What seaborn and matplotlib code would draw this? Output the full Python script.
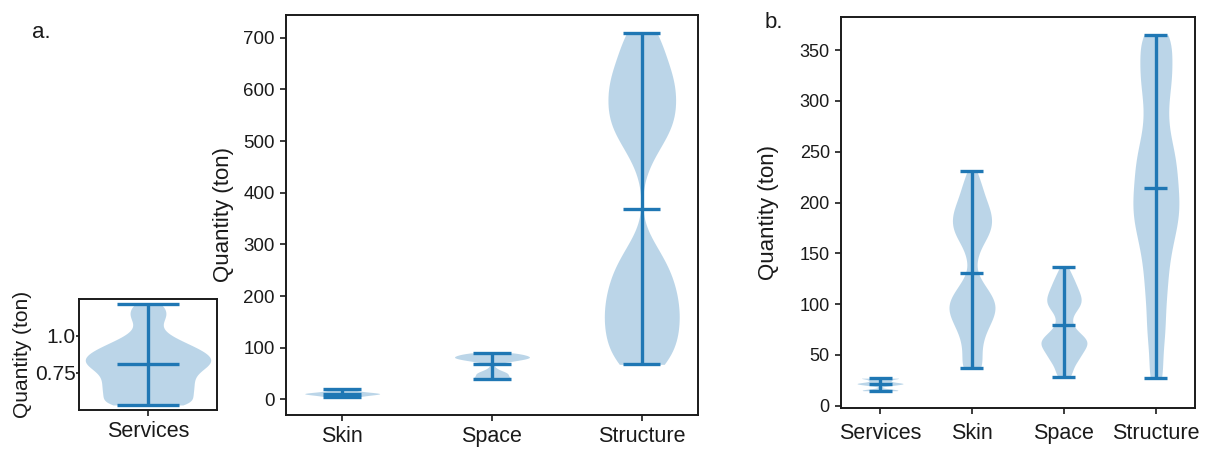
import matplotlib
matplotlib.use("Agg")
import matplotlib.pyplot as plt
import numpy as np
import pandas as pd
import seaborn as sns

CATS_A_INSET = ["Services"]
CATS_A = ["Skin", "Space", "Structure"]
CATS_B = ["Services", "Skin", "Space", "Structure"]

# quantity values (ton), with the number of runs at each value
a_services_q = [0.534, 0.57, 0.61, 0.65, 0.69, 0.73, 0.77, 0.81, 0.85, 0.89,
                0.93, 0.97, 1.01, 1.05, 1.09, 1.13, 1.17, 1.216]
a_services_n = [8, 6, 7, 7, 7, 7, 8, 10, 10, 9, 7, 5, 3, 2, 2, 3, 3, 3]

a_skin_q = [5, 7, 9, 11, 13, 15, 17, 19.5]
a_skin_n = [4, 4, 6, 9, 7, 4, 3, 3]

a_space_q = [39.3, 42, 45, 48, 51, 54, 57, 60, 63, 69, 72, 75, 78, 81, 84, 87, 90.2]
a_space_n = [6, 4, 4, 4, 4, 3, 2, 1, 1, 1, 3, 6, 8, 10, 9, 8, 7]

a_struct_q = [68, 95, 125, 155, 185, 215, 245, 275, 305, 440,
              470, 500, 530, 560, 590, 620, 650, 680, 710]
a_struct_n = [8, 8, 10, 10, 10, 9, 8, 6, 3, 1, 3, 6, 9, 9, 9, 9, 7, 5, 6]

b_services_q = [14.7, 16, 20, 21.6, 23, 25, 27.1]
b_services_n = [3, 2, 2, 4, 2, 2, 4]

b_skin_q = [36.6, 45, 55, 65, 75, 85, 95, 105, 115, 125, 135,
            145, 155, 165, 175, 185, 195, 205, 215, 223, 231]
b_skin_n = [5, 3, 4, 4, 6, 8, 10, 9, 6, 3, 1, 2, 3, 6, 8, 8, 7, 5, 4, 2, 2]

b_space_q = [28.5, 34, 40, 46, 52, 58, 64, 70, 76, 82, 88, 94, 100,
             106, 112, 118, 124, 130, 136.8]
b_space_n = [3, 3, 4, 6, 7, 9, 10, 7, 4, 3, 3, 5, 7, 7, 6, 5, 4, 3, 2]

b_struct_q = [27, 40, 55, 70, 85, 100, 115, 130, 145, 160, 175, 190,
              205, 220, 235, 250, 265, 280, 295, 310, 325, 340, 355, 365]
b_struct_n = [4, 2, 3, 4, 4, 4, 5, 5, 6, 7, 9, 10, 10, 9, 9, 8, 6, 5, 5, 6, 7, 7, 5, 7]

# kde bandwidth factor per violin
bw_a_inset = [0.22]
bw_a = [0.45, 0.16, 0.16]
bw_b = [0.22, 0.17, 0.18, 0.17]

BLUE = "#1f77b4"
LW = 2.4


def long_table(cats, values, counts):
    parts = []
    for cat, q, n in zip(cats, values, counts):
        parts.append(pd.DataFrame({"component": cat, "quantity": np.repeat(q, n)}))
    return pd.concat(parts, ignore_index=True)


def draw_violins(ax, table, cats, bws, xpad):
    for i, (cat, bw) in enumerate(zip(cats, bws)):
        sub = table[table["component"] == cat]
        sns.violinplot(data=sub, x="component", y="quantity", order=cats, ax=ax,
                       cut=0, density_norm="width", width=0.5, inner=None,
                       linewidth=0, color=BLUE, saturation=1, alpha=0.3,
                       bw_method=bw)
        q = sub["quantity"]
        ax.vlines(i, q.min(), q.max(), color=BLUE, lw=LW)
        ax.hlines([q.min(), q.mean(), q.max()], i - 0.125, i + 0.125, color=BLUE, lw=LW)
    ax.set_xlim(-xpad, len(cats) - 1 + xpad)
    ax.set_xlabel("")


sns.set_style("ticks")
plt.rcParams["font.family"] = ["Liberation Sans", "DejaVu Sans"]
plt.rcParams["axes.edgecolor"] = "0.1"
plt.rcParams["axes.linewidth"] = 1.4
plt.rcParams["xtick.major.width"] = 1.2
plt.rcParams["ytick.major.width"] = 1.2
plt.rcParams["xtick.major.size"] = 4.5
plt.rcParams["ytick.major.size"] = 4.5
plt.rcParams["text.color"] = "0.1"
plt.rcParams["xtick.color"] = "0.1"
plt.rcParams["ytick.color"] = "0.1"
plt.rcParams["axes.labelcolor"] = "0.1"

fig = plt.figure(figsize=(12.17, 4.5), dpi=100)
ax_in = fig.add_axes([0.0649, 0.0889, 0.1134, 0.2467])
ax_a = fig.add_axes([0.2350, 0.0778, 0.3385, 0.8889])
ax_b = fig.add_axes([0.6910, 0.0927, 0.2909, 0.8702])

inset_table = long_table(CATS_A_INSET, [a_services_q], [a_services_n])
a_table = long_table(CATS_A, [a_skin_q, a_space_q, a_struct_q],
                     [a_skin_n, a_space_n, a_struct_n])
b_table = long_table(CATS_B, [b_services_q, b_skin_q, b_space_q, b_struct_q],
                     [b_services_n, b_skin_n, b_space_n, b_struct_n])

draw_violins(ax_in, inset_table, CATS_A_INSET, bw_a_inset, 0.275)
ax_in.set_ylim(0.5, 1.25)
ax_in.set_yticks([0.75, 1.0])
ax_in.set_yticklabels(["0.75", "1.0"])
ax_in.set_ylabel("Quantity (ton)", fontsize=15, labelpad=2)
ax_in.tick_params(axis="y", labelsize=15, length=2.5, pad=0)
ax_in.tick_params(axis="x", labelsize=15.5)

draw_violins(ax_a, a_table, CATS_A, bw_a, 0.375)
ax_a.set_ylim(-30, 744)
ax_a.set_yticks(range(0, 701, 100))
ax_a.set_ylabel("Quantity (ton)", fontsize=16, labelpad=7)
ax_a.tick_params(axis="y", labelsize=13.5)
ax_a.tick_params(axis="x", labelsize=15.5)

draw_violins(ax_b, b_table, CATS_B, bw_b, 0.425)
ax_b.set_ylim(-2.6, 383)
ax_b.set_yticks(range(0, 351, 50))
ax_b.set_ylabel("Quantity (ton)", fontsize=16, labelpad=15)
ax_b.tick_params(axis="y", labelsize=13)
ax_b.tick_params(axis="x", labelsize=15.5, pad=6)

fig.text(32 / 1217, 1 - 38 / 450, "a.", fontsize=16)
fig.text(765 / 1217, 1 - 28 / 450, "b.", fontsize=16)

fig.savefig("out.png", dpi=100)
